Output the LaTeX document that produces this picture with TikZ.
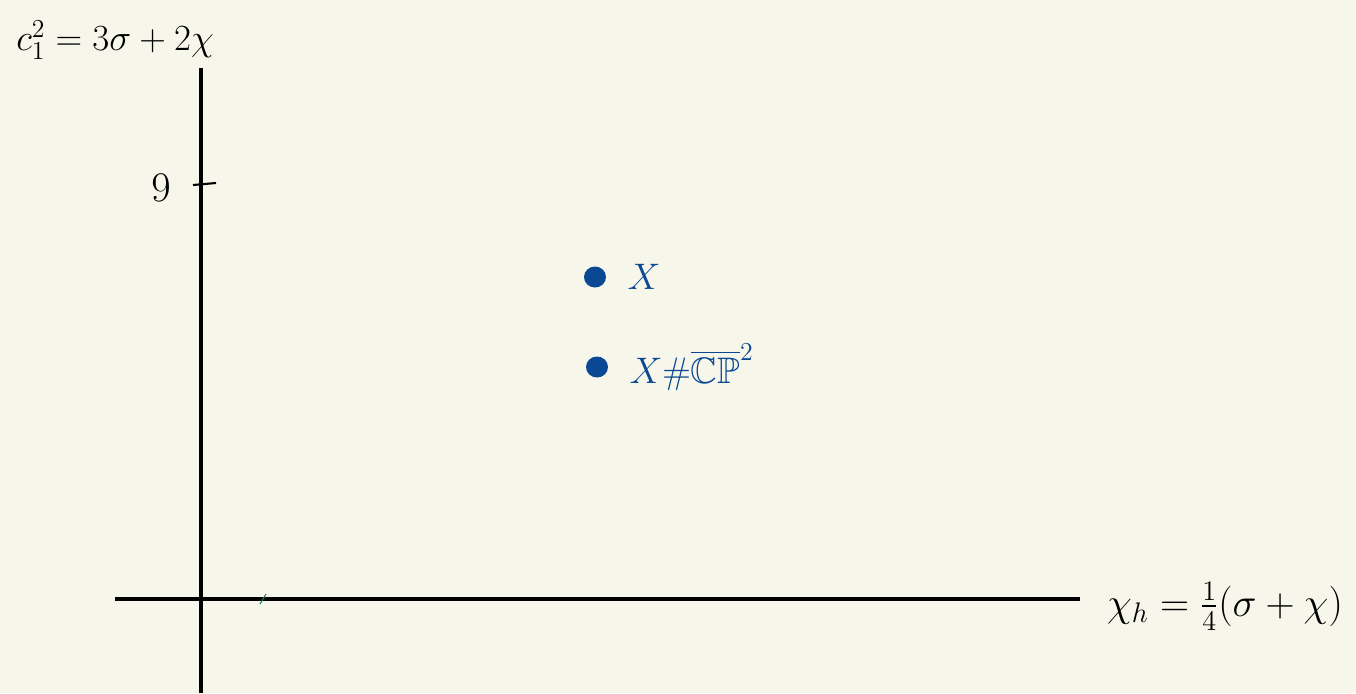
\RequirePackage{fix-cm}
\documentclass[tikz,border=0pt]{standalone}
\usepackage{amsmath,amssymb}
\usepackage{tikz}
\usetikzlibrary{positioning,shapes.geometric}
\definecolor{paper}{HTML}{F7F6EA}
\definecolor{inkblue}{HTML}{0B4893}
\definecolor{strokegreen}{HTML}{1E7A5A}
\tikzset{
  axisline/.style={line width=1.8pt},
  bigmath/.style={font=\fontsize{21}{25}\selectfont},
  pointdot/.style={ellipse, fill=inkblue, inner sep=0pt, minimum width=4.4mm, minimum height=4.2mm},
  pointlabel/.style={text=inkblue, font=\fontsize{21}{25}\selectfont, right=3mm of #1}
}

\begin{document}
\begin{tikzpicture}[x=0.2mm, y=-0.2mm]
  \fill[paper] (0,0) rectangle (1356,693);
  \useasboundingbox (0,0) rectangle (1356,693);
  % axes
  \coordinate (ytop) at (201,68);
  \coordinate (ybot) at (201,693);
  \coordinate (xleft) at (115,599);
  \coordinate (xright) at (1080,599);
  \draw[axisline] (ybot) -- (ytop);
  \draw[axisline] (xleft) -- (xright);
  \node[bigmath] (ylab) at (115,40) {$c_{1}^{2} = 3\sigma + 2\chi$};
  \node[font=\fontsize{23}{27}\selectfont] (xlab) at (1225,606) {$\chi_h = \frac{1}{4}(\sigma + \chi)$};
  % tick at 9
  \coordinate (tk1) at (193,185);
  \coordinate (tk2) at (216,183);
  \draw[line width=1.2pt] (tk1) -- (tk2);
  \node[font=\fontsize{24}{28}\selectfont] (nine) at (161,188) {$9$};
  % stray stroke
  \coordinate (gs1) at (260,604);
  \coordinate (gs2) at (266,594);
  \draw[strokegreen, line width=0.6pt] (gs1) -- (gs2);
  % points
  \node[pointdot] (pX) at (595,277) {};
  \node[pointdot] (pXcp) at (597,367) {};
  \node[pointlabel=pX] (lX) {$X$};
  \node[pointlabel=pXcp] (lXcp) {$X\#\overline{\mathbb{CP}}^2$};
\end{tikzpicture}
\end{document}
